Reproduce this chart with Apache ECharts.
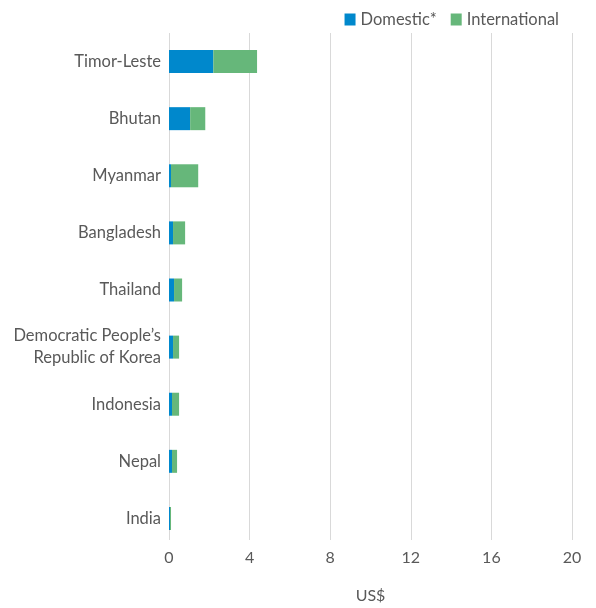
<!DOCTYPE html>
<html>
<head>
<meta charset="utf-8">
<script src="https://cdn.jsdelivr.net/npm/echarts@6/dist/echarts.min.js"></script>
<style>
  html, body { margin: 0; padding: 0; background: #fff; }
  #chart { width: 596px; height: 608px; }
</style>
</head>
<body>
<div id="chart"></div>
<script>
var countries = ['Timor-Leste', 'Bhutan', 'Myanmar', 'Bangladesh', 'Thailand',
    'Democratic People\u2019s\nRepublic of Korea', 'Indonesia', 'Nepal', 'India'];
var domestic = [2.2, 1.05, 0.1, 0.2, 0.25, 0.2, 0.15, 0.15, 0.05];
var international = [2.17, 0.75, 1.35, 0.6, 0.4, 0.3, 0.35, 0.25, 0.05];
var xTicks = [0, 4, 8, 12, 16, 20];

var textColor = '#595959';
var font = 'Lato, "Noto Sans", sans-serif';
var xMin = xTicks[0], xMax = xTicks[xTicks.length - 1];

var chart = echarts.init(document.getElementById('chart'));
chart.setOption({
    animation: false,
    textStyle: { fontFamily: font },
    legend: {
        top: 6,
        right: 32,
        itemWidth: 11,
        itemHeight: 12,
        itemGap: 14,
        icon: 'rect',
        textStyle: { color: textColor, fontSize: 16.5, fontFamily: font }
    },
    // grid 0 holds the bars, grid 1 draws the gridlines and x labels
    grid: [
        { left: 169, right: 24, top: 33, bottom: 61, outerBoundsMode: 'none' },
        { left: 169, right: 24, top: 33, bottom: 68, outerBoundsMode: 'none' }
    ],
    xAxis: [
        {
            gridIndex: 0, type: 'value', min: xMin, max: xMax, interval: 4,
            axisLine: { show: false }, axisTick: { show: false },
            axisLabel: { show: false }, splitLine: { show: false }
        },
        {
            gridIndex: 1, type: 'value', min: xMin, max: xMax, interval: 4,
            name: 'US$',
            nameLocation: 'middle',
            nameGap: 48,
            nameTextStyle: { color: textColor, fontSize: 16, fontFamily: font },
            axisLine: { show: false },
            axisTick: { show: false },
            axisLabel: { color: textColor, fontSize: 16, margin: 10, fontFamily: font },
            splitLine: { lineStyle: { color: '#d9d9d9', width: 1 } }
        }
    ],
    yAxis: [
        {
            gridIndex: 0,
            type: 'category',
            data: countries,
            inverse: true,
            axisLine: { show: false },
            axisTick: { show: false },
            axisLabel: { color: textColor, fontSize: 16.5, margin: 8, lineHeight: 22,
                align: 'right', padding: [0, 0, 5, 0], fontFamily: font }
        },
        {
            gridIndex: 1, type: 'category', data: countries, show: false
        }
    ],
    series: [
        {
            name: 'Domestic*',
            type: 'bar',
            stack: 'total',
            data: domestic,
            barWidth: 23,
            z: 3,
            itemStyle: { color: '#0088cc' }
        },
        {
            name: 'International',
            type: 'bar',
            stack: 'total',
            data: international,
            barWidth: 23,
            z: 3,
            itemStyle: { color: '#66b77a' }
        }
    ]
});
</script>
</body>
</html>
